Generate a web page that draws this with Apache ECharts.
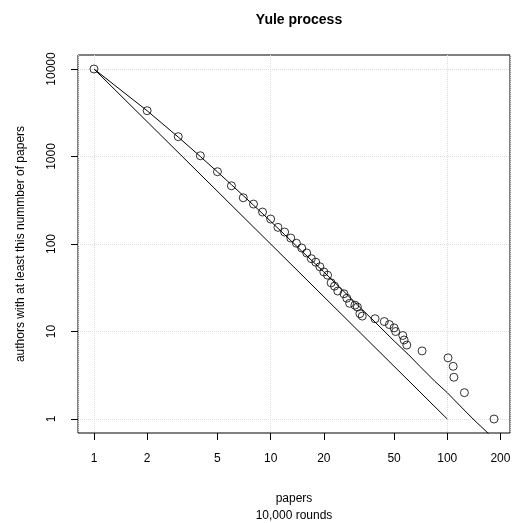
<!DOCTYPE html>
<html>
<head>
<meta charset="utf-8">
<script src="https://cdn.jsdelivr.net/npm/echarts@6/dist/echarts.min.js"></script>
<style>
  html, body { margin: 0; padding: 0; background: #fff; }
  #chart { width: 515px; height: 523px; }
</style>
</head>
<body>
<div id="chart"></div>
<script>
// simulated counts: authors with at least k papers
const papers = [1, 2, 3, 4, 5, 6, 7, 8, 9, 10, 11, 12, 13, 14, 15, 16, 17, 18, 19, 20,
  21, 22, 23, 24, 26, 27, 28, 30, 31, 32, 33, 39, 44, 47, 50, 51, 56, 57, 59, 72, 101, 108, 109, 125, 184]
const authors = [10000, 3340, 1685, 1020, 670, 463, 338, 286, 232, 193, 155, 137, 117, 102, 90, 79, 68, 62, 55, 48,
  44, 36, 33, 29, 27, 24, 21, 20, 19, 16, 15, 14, 13, 12, 11, 10, 9, 8, 7, 6, 5, 4, 3, 2, 1]

// expected curve
const curvePapers = [1, 2, 3, 4, 5, 6, 7, 8, 10, 12, 15, 20, 25, 30, 40, 50, 60, 70, 85, 100, 120, 140, 170, 200]
const curveAuthors = [10000, 3333, 1667, 1000, 667, 476, 357, 278, 182, 128, 83, 48, 31, 21.5, 12.2, 7.8, 5.5, 4.0, 2.7, 2.0, 1.37, 1.0, 0.69, 0.5]

// reference line with slope -2
const refPapers = [1, 100]
const refAuthors = [10000, 1]

const xTicks = [1, 2, 5, 10, 20, 50, 100, 200]
const yTicks = [1, 10, 100, 1000, 10000]

const font = 'Liberation Sans, Arial, sans-serif'
const xMin = 0.812, xMax = 226.5
const yMin = 0.692, yMax = 14454

const chart = echarts.init(document.getElementById('chart'))

const option = {
  animation: false,
  backgroundColor: '#fff',
  title: {
    text: 'Yule process',
    left: 294,
    top: 8,
    textAlign: 'center',
    textStyle: { fontFamily: font, fontSize: 14, fontWeight: 'bold', color: '#000' }
  },
  grid: {
    left: 78, right: 5, top: 55, bottom: 90,
    outerBoundsMode: 'none',
    containLabel: false,
    show: true, borderColor: '#000', borderWidth: 1, backgroundColor: 'transparent'
  },
  xAxis: [
    {
      type: 'log', logBase: 10, min: xMin, max: xMax,
      name: 'papers\n10,000 rounds',
      nameLocation: 'middle', nameGap: 57,
      nameTextStyle: { fontFamily: font, fontSize: 12, color: '#000', lineHeight: 17 },
      axisLine: { show: false },
      axisTick: { show: true, inside: false, length: 7, customValues: xTicks, lineStyle: { color: '#000' } },
      axisLabel: { customValues: xTicks, margin: 20, fontFamily: font, fontSize: 12, color: '#000',
        formatter: v => String(Math.round(v)) },
      splitLine: { show: false }
    },
    {
      type: 'log', logBase: 10, min: xMin, max: xMax, position: 'bottom',
      axisLine: { show: false }, axisTick: { show: false }, axisLabel: { show: false },
      splitLine: { show: true, lineStyle: { color: '#dcdcdc', type: 'dotted', width: 1 } }
    }
  ],
  yAxis: {
    type: 'log', logBase: 10, min: yMin, max: yMax,
    name: 'authors with at least this nummber of papers',
    nameLocation: 'middle', nameGap: 51,
    nameTextStyle: { fontFamily: font, fontSize: 12, color: '#000' },
    axisLine: { show: false },
    axisTick: { show: true, inside: false, length: 7, customValues: yTicks, lineStyle: { color: '#000' } },
    axisLabel: { customValues: yTicks, rotate: 90, margin: 20, fontFamily: font, fontSize: 12, color: '#000',
      formatter: v => String(Math.round(v)) },
    splitLine: { show: true, lineStyle: { color: '#dcdcdc', type: 'dotted', width: 1 } }
  },
  series: [
    {
      type: 'line',
      data: refPapers.map((p, i) => [p, refAuthors[i]]),
      symbol: 'none', clip: true,
      lineStyle: { color: '#000', width: 1 }
    },
    {
      type: 'line',
      data: curvePapers.map((p, i) => [p, curveAuthors[i]]),
      symbol: 'none', clip: true,
      lineStyle: { color: '#000', width: 1 }
    },
    {
      type: 'scatter',
      data: papers.map((p, i) => [p, authors[i]]),
      symbol: 'circle', symbolSize: 8,
      itemStyle: { color: 'transparent', borderColor: '#000', borderWidth: 1 }
    }
  ]
}

chart.setOption(option)
window.addEventListener('resize', () => chart.resize())
</script>
</body>
</html>
